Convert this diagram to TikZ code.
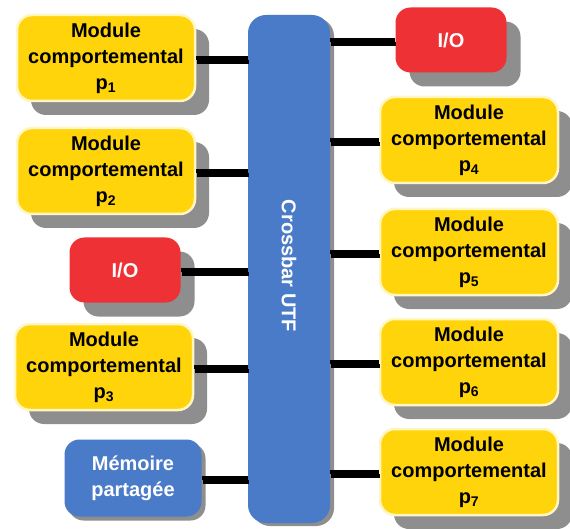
\documentclass[tikz,border=0pt]{standalone}
\usepackage{fontspec}
\setmainfont{Liberation Sans}
\usetikzlibrary{shadows}
\definecolor{modyellow}{HTML}{FFD40A}
\definecolor{modrim}{HTML}{FFF6C2}
\definecolor{iored}{HTML}{EE3135}
\definecolor{busblue}{HTML}{4A7BC8}
\definecolor{shade}{HTML}{8E8E8E}
\tikzset{
  boxshadow/.style={drop shadow={shadow xshift=14pt, shadow yshift=-14pt, fill=shade, opacity=1}},
  modbox/.style={rounded corners=15pt, fill=modyellow, draw=modrim, line width=2.5pt,
    minimum width=178pt, minimum height=86pt, align=center, boxshadow,
    font=\fontsize{20}{26}\selectfont\bfseries, text=black, inner sep=0pt},
  iobox/.style={rounded corners=15pt, fill=iored, minimum width=111pt, minimum height=65pt,
    boxshadow, font=\fontsize{20}{26}\selectfont\bfseries, text=white, inner sep=0pt},
  membox/.style={rounded corners=15pt, fill=busblue, minimum width=137pt, minimum height=77pt,
    align=center, drop shadow={shadow xshift=4pt, shadow yshift=-4pt, fill=shade, opacity=1},
    font=\fontsize{20}{26}\selectfont\bfseries, text=white, inner sep=0pt},
  busbox/.style={rounded corners=18pt, fill=busblue, minimum width=82pt, minimum height=508pt,
    drop shadow={shadow xshift=4pt, shadow yshift=-3pt, fill=shade, opacity=1}, inner sep=0pt},
  link/.style={line width=3.5pt, black},
  linkshadow/.style={line width=3.5pt, shade, transform canvas={shift={(1pt,-4pt)}}},
}
\newcommand{\modtext}[1]{Module\\comportemental\\p\textsubscript{#1}}
\begin{document}
\begin{tikzpicture}[x=1pt, y=-1pt]
\useasboundingbox (0,0) rectangle (570,529);

% crossbar
\node[busbox] (cb) at (289,269) {};
\node[rotate=-90, text=white, font=\fontsize{20}{24}\selectfont\bfseries] (cbl) at (289,266) {Crossbar UTF};

% left column
\node[modbox] (p1) at (106,58) {\modtext{1}};
\node[modbox] (p2) at (106,171) {\modtext{2}};
\node[iobox] (io1) at (125,270) {I/O};
\node[modbox] (p3) at (104,367) {\modtext{3}};
\node[membox] (mem) at (133,478) {Mémoire\\partagée};

% right column
\node[iobox] (io2) at (451,40) {I/O};
\node[modbox] (p4) at (469,140) {\modtext{4}};
\node[modbox] (p5) at (469,252) {\modtext{5}};
\node[modbox] (p6) at (469,362) {\modtext{6}};
\node[modbox] (p7) at (469,472) {\modtext{7}};

% connectors to the crossbar
\begin{scope}[on background layer/.style={}]
\foreach \n in {p1,p2,io1,p3,mem} {
  \draw[linkshadow] (\n.east) -- (\n.east -| cb.west);
}
\foreach \n in {io2,p4,p5,p6,p7} {
  \draw[linkshadow] (\n.west) -- (\n.west -| cb.east);
}
\end{scope}
\foreach \n in {p1,p2,io1,p3,mem} {
  \draw[link] (\n.east) -- (\n.east -| cb.west);
}
\foreach \n in {io2,p4,p5,p6,p7} {
  \draw[link] (\n.west) -- (\n.west -| cb.east);
}
\end{tikzpicture}
\end{document}
